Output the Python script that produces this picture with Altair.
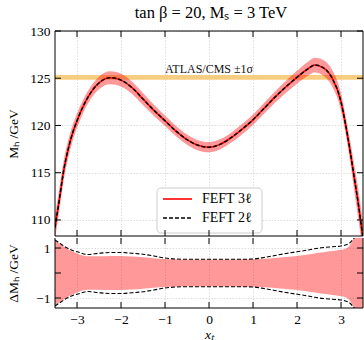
import altair as alt
import pandas as pd

# ---------------- data ----------------
xt = [-3.5, -3.4, -3.3, -3.2, -3.1, -3.0, -2.75, -2.5, -2.25, -2.0, -1.75, -1.5,
      -1.25, -1.0, -0.75, -0.5, -0.25, 0.0, 0.25, 0.5, 0.75, 1.0, 1.25, 1.5,
      1.75, 2.0, 2.25, 2.4, 2.6, 2.8, 3.0, 3.1, 3.2, 3.3, 3.4, 3.5]
mh_3l = [109.2, 112.2, 115.3, 117.5, 119.2, 120.5, 123.0, 124.5, 125.05, 124.8, 124.0, 122.8,
         121.6, 120.5, 119.4, 118.5, 117.9, 117.7, 118.0, 118.7, 119.6, 120.6, 121.8, 123.0,
         124.1, 125.1, 126.0, 126.4, 126.1, 125.0, 122.5, 120.2, 117.5, 114.5, 111.5, 108.0]
mh_2l = [109.2, 112.2, 115.3, 117.5, 119.2, 120.5, 123.0, 124.5, 125.05, 124.8, 124.0, 122.8,
         121.6, 120.5, 119.4, 118.5, 117.9, 117.7, 118.0, 118.7, 119.6, 120.6, 121.8, 123.0,
         124.1, 125.1, 126.0, 126.4, 126.1, 125.0, 122.5, 120.2, 117.5, 114.5, 111.5, 108.0]
unc_3l = [1.3, 1.18, 1.06, 0.95, 0.86, 0.78, 0.67, 0.67, 0.68, 0.68, 0.66, 0.63,
          0.59, 0.56, 0.55, 0.54, 0.54, 0.54, 0.54, 0.54, 0.55, 0.55, 0.57, 0.6,
          0.64, 0.68, 0.74, 0.78, 0.83, 0.88, 0.93, 0.97, 1.1, 1.4, 1.6, 1.7]
unc_2l = [1.32, 1.2, 1.08, 0.98, 0.9, 0.85, 0.74, 0.79, 0.82, 0.82, 0.79, 0.75,
          0.68, 0.6, 0.56, 0.55, 0.55, 0.55, 0.55, 0.55, 0.55, 0.56, 0.62, 0.7,
          0.78, 0.85, 0.92, 0.97, 1.02, 1.05, 1.08, 1.12, 1.2, 1.4, 1.6, 1.7]

series_names = ["FEFT 3ℓ", "FEFT 2ℓ"]
series_colors = ["#ff0000", "#000000"]
exp_mh = [125.09]
exp_sigma = [0.24]
exp_label = ["ATLAS/CMS ±1σ"]
title_text = ["tan β = 20,  Mₛ = 3 TeV"]

x_ticks = [-3, -2, -1, 0, 1, 2, 3]
y_ticks_main = [110, 115, 120, 125, 130]
y_ticks_ratio = [-1, 0, 1]

x_domain = [-3.5, 3.5]
y_domain_main = [108.3, 130]
y_domain_ratio = [-1.4, 1.4]

# ---------------- layout ----------------
W = 308
H1 = 205
H2 = 70
FONT = "Liberation Serif"
GRID = dict(grid=True, gridColor="#d4d4d4", gridDash=[1.5, 1.5], gridWidth=0.8)

df = pd.DataFrame({"x": xt, "mh3": mh_3l, "mh2": mh_2l, "u3": unc_3l, "u2": unc_2l})
df["lo3"] = df["mh3"] - df["u3"]
df["hi3"] = df["mh3"] + df["u3"]
df["nu3"] = -df["u3"]

ratio_dash = pd.concat([
    pd.DataFrame({"x": xt, "d": unc_2l, "side": "up"}),
    pd.DataFrame({"x": xt, "d": [-u for u in unc_2l], "side": "down"}),
], ignore_index=True)

xscale = alt.Scale(domain=x_domain, nice=False, zero=False)
yscale_main = alt.Scale(domain=y_domain_main, nice=False, zero=False)
yscale_ratio = alt.Scale(domain=y_domain_ratio, nice=False, zero=False)

x_axis_main = alt.Axis(values=x_ticks, labels=False, ticks=False, domain=False, title=None,
                       minExtent=0, maxExtent=0, offset=0, **GRID)
y_axis_main = alt.Axis(values=y_ticks_main, ticks=False, domain=False, title="Mₕ /GeV",
                       labelPadding=5, titleX=-42, titleY=H1 / 2, titleBaseline="middle",
                       titleFontWeight="normal", **GRID)

one = pd.DataFrame({"k": [0]})

# ----- main panel -----
exp_df = pd.DataFrame({"lo": [exp_mh[0] - exp_sigma[0]], "hi": [exp_mh[0] + exp_sigma[0]],
                       "xa": [x_domain[0]], "xb": [x_domain[1]]})
exp_band = alt.Chart(exp_df).mark_rect(color="#f8c66c", opacity=0.85).encode(
    x=alt.X("xa:Q", scale=xscale, axis=x_axis_main),
    x2="xb:Q",
    y=alt.Y("lo:Q", scale=yscale_main, axis=y_axis_main),
    y2="hi:Q",
)

exp_text = alt.Chart(pd.DataFrame({"x": [0.0], "y": [125.95], "t": exp_label})).mark_text(
    font=FONT, fontSize=12, color="#111111", baseline="middle"
).encode(x=alt.X("x:Q", scale=xscale), y=alt.Y("y:Q", scale=yscale_main), text="t:N")

band_main = alt.Chart(df).mark_area(color="#ff0000", opacity=0.4, clip=True,
                                    interpolate="monotone").encode(
    x=alt.X("x:Q", scale=xscale), y=alt.Y("lo3:Q", scale=yscale_main), y2="hi3:Q"
)

line3 = alt.Chart(df).mark_line(color=series_colors[0], strokeWidth=1.6, clip=True,
                                interpolate="monotone").encode(
    x=alt.X("x:Q", scale=xscale), y=alt.Y("mh3:Q", scale=yscale_main))
line2 = alt.Chart(df).mark_line(color=series_colors[1], strokeWidth=1.5, strokeDash=[4, 2],
                                clip=True, interpolate="monotone").encode(
    x=alt.X("x:Q", scale=xscale), y=alt.Y("mh2:Q", scale=yscale_main))

title_mark = alt.Chart(pd.DataFrame({"t": title_text})).mark_text(
    font=FONT, fontSize=16.5, color="black", baseline="middle", align="center"
).encode(x=alt.value(W / 2 + 2), y=alt.value(-18), text="t:N")

# manual legend (box + entries)
LX0, LX1, LY0, LY1 = 102, 207, 157, 202
leg_box = alt.Chart(one).mark_rect(fill="white", stroke="#cccccc", strokeWidth=1,
                                   cornerRadius=4).encode(
    x=alt.value(LX0), x2=alt.value(LX1), y=alt.value(LY0), y2=alt.value(LY1))
leg_red = alt.Chart(one).mark_rule(color=series_colors[0], strokeWidth=1.6).encode(
    x=alt.value(LX0 + 6), x2=alt.value(LX0 + 35), y=alt.value(LY0 + 11))
leg_blk = alt.Chart(one).mark_rule(color=series_colors[1], strokeWidth=1.5, strokeDash=[4, 2]).encode(
    x=alt.value(LX0 + 6), x2=alt.value(LX0 + 35), y=alt.value(LY0 + 30))
leg_t1 = alt.Chart(pd.DataFrame({"t": [series_names[0]]})).mark_text(
    font=FONT, fontSize=14, align="left", baseline="middle", color="black").encode(
    x=alt.value(LX0 + 45), y=alt.value(LY0 + 11), text="t:N")
leg_t2 = alt.Chart(pd.DataFrame({"t": [series_names[1]]})).mark_text(
    font=FONT, fontSize=14, align="left", baseline="middle", color="black").encode(
    x=alt.value(LX0 + 45), y=alt.value(LY0 + 30), text="t:N")
legend = leg_box + leg_red + leg_blk + leg_t1 + leg_t2

xt_df = pd.DataFrame({"x": x_ticks})
ytm_df = pd.DataFrame({"y": y_ticks_main})
ytr_df = pd.DataFrame({"y": y_ticks_ratio})


def frame(h, top_line=True):
    parts = []
    if top_line:
        parts.append(alt.Chart(one).mark_rule(color="black", strokeWidth=1).encode(
            x=alt.value(0), x2=alt.value(W), y=alt.value(0)))
    parts.append(alt.Chart(one).mark_rule(color="black", strokeWidth=1).encode(
        x=alt.value(0), x2=alt.value(W), y=alt.value(h)))
    parts.append(alt.Chart(one).mark_rule(color="black", strokeWidth=1).encode(
        y=alt.value(0), y2=alt.value(h), x=alt.value(0)))
    parts.append(alt.Chart(one).mark_rule(color="black", strokeWidth=1).encode(
        y=alt.value(0), y2=alt.value(h), x=alt.value(W)))
    return alt.layer(*parts)


def xticks(h):
    bot = alt.Chart(xt_df).mark_rule(color="black", strokeWidth=1).encode(
        x=alt.X("x:Q", scale=xscale), y=alt.value(h), y2=alt.value(h - 6))
    top = alt.Chart(xt_df).mark_rule(color="black", strokeWidth=1).encode(
        x=alt.X("x:Q", scale=xscale), y=alt.value(0), y2=alt.value(6))
    return bot + top


def yticks(tdf, sc):
    left = alt.Chart(tdf).mark_rule(color="black", strokeWidth=1).encode(
        y=alt.Y("y:Q", scale=sc), x=alt.value(0), x2=alt.value(6))
    right = alt.Chart(tdf).mark_rule(color="black", strokeWidth=1).encode(
        y=alt.Y("y:Q", scale=sc), x=alt.value(W), x2=alt.value(W - 6))
    return left + right


main = alt.layer(
    exp_band, band_main, line3, line2, exp_text, legend, frame(H1), xticks(H1),
    yticks(ytm_df, yscale_main), title_mark
).properties(width=W, height=H1)

# ----- ratio panel -----
x_axis_ratio = alt.Axis(values=x_ticks, ticks=False, domain=False, title="xₜ", labelPadding=4,
                        titleX=W / 2, titleY=26, titleBaseline="middle", titleFontStyle="italic",
                        titleFontWeight="normal", **GRID)
y_axis_ratio = alt.Axis(values=y_ticks_ratio, ticks=False, domain=False, title="ΔMₕ /GeV",
                        labelPadding=5, titleX=-42, titleY=H2 / 2, titleBaseline="middle",
                        titleFontWeight="normal", **GRID)

band_ratio = alt.Chart(df).mark_area(color="#ff0000", opacity=0.4, clip=True,
                                     interpolate="monotone").encode(
    x=alt.X("x:Q", scale=xscale, axis=x_axis_ratio),
    y=alt.Y("nu3:Q", scale=yscale_ratio, axis=y_axis_ratio),
    y2="u3:Q",
)
dash_ratio = alt.Chart(ratio_dash).mark_line(color="black", strokeWidth=1.1, strokeDash=[4, 2],
                                             clip=True, interpolate="monotone").encode(
    x=alt.X("x:Q", scale=xscale),
    y=alt.Y("d:Q", scale=yscale_ratio),
    detail="side:N",
)

ratio = alt.layer(
    band_ratio, dash_ratio, frame(H2, top_line=False), xticks(H2), yticks(ytr_df, yscale_ratio)
).properties(width=W, height=H2)

chart = alt.vconcat(main, ratio, spacing=0).properties(
    padding={"left": 6, "top": 5, "right": 0, "bottom": 0},
).configure_view(
    stroke=None
).configure_axis(
    labelFont=FONT, labelFontSize=13.5, labelColor="black",
    titleFont=FONT, titleFontSize=13.5, titleColor="black",
)

chart.save("out.html", embed_options={"renderer": "svg", "actions": False})
